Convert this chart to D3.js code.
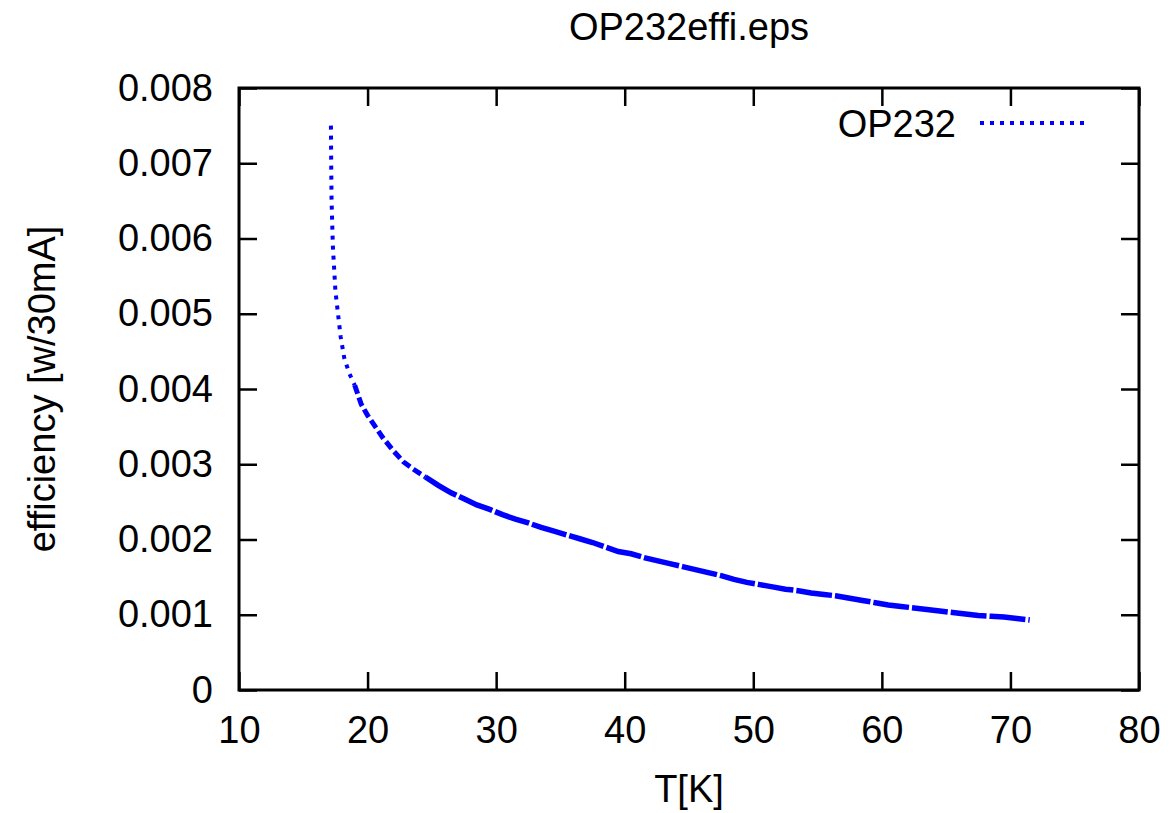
<!DOCTYPE html>
<html>
<head>
<meta charset="utf-8">
<script src="https://cdn.jsdelivr.net/npm/d3@7"></script>
<style>
  body { margin: 0; background: #fff; }
  text { font-family: "Liberation Sans", Arial, sans-serif; }
</style>
</head>
<body>
<div id="graphe"></div>
<script>
//----------------------------------------------------------------
// données
var temperatures = [17.15, 17.17, 17.2, 17.25, 17.3, 17.4, 17.5, 17.7, 17.9, 18.2,
  18.6, 19.0, 19.5, 20.0, 20.6, 21.2, 22.0, 22.8, 23.6, 24.5,
  25.5, 26.5, 27.5, 28.5, 29.5, 30.5, 31.5, 32.5, 33.5, 34.5,
  35.5, 36.5, 37.5, 38.5, 39.5, 40.5, 41.5, 42.5, 43.5, 44.5,
  45.5, 46.5, 47.5, 48.5, 49.5, 50.5, 51.5, 52.5, 53.5, 54.5,
  55.5, 56.5, 57.5, 58.5, 59.5, 60.5, 61.5, 62.5, 63.5, 64.5,
  65.5, 66.5, 67.5, 68.5, 69.5, 70.5, 71.5];
var efficacite = [0.0075, 0.0070, 0.0065, 0.0062, 0.0059, 0.0056, 0.0053, 0.0050, 0.0047, 0.0044,
  0.0042, 0.00405, 0.0038, 0.00365, 0.00350, 0.00335, 0.00318, 0.00303, 0.00293, 0.00283,
  0.00272, 0.00262, 0.00254, 0.00246, 0.00240, 0.00233, 0.00227, 0.00222, 0.00216, 0.00211,
  0.00206, 0.00201, 0.00196, 0.00190, 0.00184, 0.00181, 0.00176, 0.00172, 0.00168, 0.00164,
  0.00160, 0.00156, 0.00152, 0.00147, 0.00143, 0.00140, 0.00137, 0.00134, 0.00132, 0.00129,
  0.00127, 0.00125, 0.00122, 0.00119, 0.00116, 0.00113, 0.00111, 0.00109, 0.00107, 0.00105,
  0.00103, 0.00101, 0.00099, 0.00098, 0.00097, 0.00095, 0.00093];
var xTicks = [10, 20, 30, 40, 50, 60, 70, 80];
var yTicks = [0, 0.001, 0.002, 0.003, 0.004, 0.005, 0.006, 0.007, 0.008];
var yTickLabels = ["0", "0.001", "0.002", "0.003", "0.004", "0.005", "0.006", "0.007", "0.008"];
var titre = "OP232effi.eps";
var serie = "OP232";

//----------------------------------------------------------------
// crée le svg
var largeur = 1173, hauteur = 813;
var gauche = 239, droite = 1139, haut = 88, bas = 690;
var svg = d3.select("#graphe")
  .append("svg")
  .attr("width", largeur)
  .attr("height", hauteur);

var x = d3.scaleLinear().domain([10, 80]).range([gauche, droite]);
var y = d3.scaleLinear().domain([0, 0.008]).range([bas, haut]);

//----------------------------------------------------------------
// axes (ticks vers l'intérieur, sur les 4 côtés)
function styleAxe(g) {
  g.select(".domain").remove();
  g.selectAll("line").attr("stroke", "black").attr("stroke-width", 2.5);
  g.selectAll("text").attr("font-size", "38px").attr("fill", "black")
    .attr("font-family", "Liberation Sans, Arial, sans-serif");
}

svg.append("g")
  .attr("transform", "translate(0," + bas + ")")
  .call(d3.axisBottom(x).tickValues(xTicks).tickSize(-18).tickPadding(26).tickFormat(d3.format("d")))
  .call(styleAxe);
svg.append("g")
  .attr("transform", "translate(0," + haut + ")")
  .call(d3.axisTop(x).tickValues(xTicks).tickSize(-18).tickFormat(""))
  .call(styleAxe);
svg.append("g")
  .attr("transform", "translate(" + gauche + ",0)")
  .call(d3.axisLeft(y).tickValues(yTicks).tickSize(-18).tickPadding(26)
    .tickFormat(function(d, i) { return yTickLabels[i]; }))
  .call(styleAxe);
svg.append("g")
  .attr("transform", "translate(" + droite + ",0)")
  .call(d3.axisRight(y).tickValues(yTicks).tickSize(-18).tickFormat(""))
  .call(styleAxe);

// cadre
svg.append("rect")
  .attr("x", gauche).attr("y", haut)
  .attr("width", droite - gauche).attr("height", bas - haut)
  .attr("fill", "none").attr("stroke", "black").attr("stroke-width", 3);

//----------------------------------------------------------------
// courbe (pointillés, plus serrés là où les mesures sont bruitées)
var points = temperatures.map(function(t, i) { return [t, efficacite[i]]; });
var ligne = d3.line()
  .x(function(d) { return x(d[0]); })
  .y(function(d) { return y(d[1]); });

var morceaux = [
  { de: 17.0, a: 19.0, tirets: "4,6", epaisseur: 4 },
  { de: 19.0, a: 24.5, tirets: "9,4", epaisseur: 5 },
  { de: 24.5, a: 72.0, tirets: "36,3", epaisseur: 5.5 }
];
morceaux.forEach(function(m) {
  svg.append("path")
    .datum(points.filter(function(d) { return d[0] >= m.de && d[0] <= m.a; }))
    .attr("fill", "none")
    .attr("stroke", "#0000ff")
    .attr("stroke-width", m.epaisseur)
    .attr("stroke-dasharray", m.tirets)
    .attr("d", ligne);
});

//----------------------------------------------------------------
// légende
svg.append("text")
  .attr("x", 956).attr("y", 137)
  .attr("text-anchor", "end")
  .attr("font-size", "38px")
  .text(serie);
svg.append("line")
  .attr("x1", 980).attr("x2", 1085)
  .attr("y1", 123).attr("y2", 123)
  .attr("stroke", "#0000ff")
  .attr("stroke-width", 4)
  .attr("stroke-dasharray", "4,6");

//----------------------------------------------------------------
// titres
svg.append("text")
  .attr("x", (gauche + droite) / 2).attr("y", 40)
  .attr("text-anchor", "middle")
  .attr("font-size", "38px")
  .text(titre);
svg.append("text")
  .attr("x", (gauche + droite) / 2).attr("y", 802)
  .attr("text-anchor", "middle")
  .attr("font-size", "38px")
  .text("T[K]");
svg.append("text")
  .attr("transform", "translate(55," + (haut + bas) / 2 + ") rotate(-90)")
  .attr("text-anchor", "middle")
  .attr("font-size", "38px")
  .text("efficiency [w/30mA]");
</script>
</body>
</html>
